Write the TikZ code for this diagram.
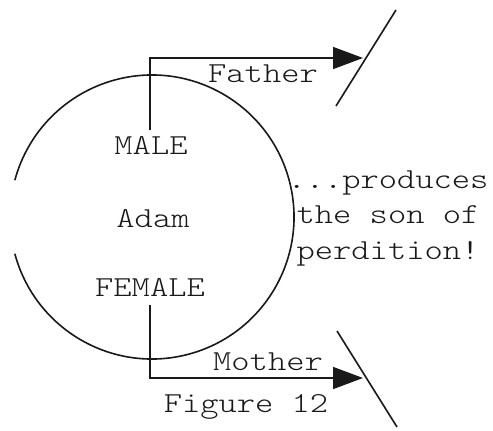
\documentclass[tikz,border=0pt]{standalone}
\usepackage{fontspec}
\usepackage{graphicx}
\newfontfamily\courlike{Latin Modern Mono Light}
\usetikzlibrary{arrows.meta}
\newcommand{\wide}[1]{\scalebox{1.2}[1]{#1}}
\tikzset{
  line/.style={line width=1.6pt, color=black!90},
  arr/.style={line, -{Triangle[length=30pt,width=22pt]}},
  lbl/.style={font=\fontsize{29pt}{35pt}\selectfont\courlike, inner sep=0pt, anchor=base, text=black!90},
}
\begin{document}
\begin{tikzpicture}[x=1pt,y=-1pt]
\useasboundingbox (0,0) rectangle (493,431);
\coordinate (c) at (152,217);
\draw[line] ([shift={(165:142)}]c) arc[start angle=165, end angle=-165, radius=142];
\node[lbl] (male) at (151,154) {\wide{MALE}};
\node[lbl] (adam) at (153,227) {\wide{Adam}};
\node[lbl] (female) at (150,296) {\wide{FEMALE}};
\node[lbl] (father) at (263,82) {\wide{Father}};
\node[lbl] (mother) at (268,370) {\wide{Mother}};
\node[lbl] (fig) at (246,412) {\wide{Figure 12}};
\node[lbl] (son1) at (388,188) {\wide{...produces}};
\node[lbl] (son2) at (388,223) {\wide{the son of}};
\node[lbl] (son3) at (388,259) {\wide{perdition!}};
\coordinate (fs) at (150,130);
\coordinate (fc) at (150,58);
\coordinate (ft) at (363,58);
\coordinate (ms) at (150,305);
\coordinate (mc) at (150,378);
\coordinate (mt) at (363,378);
\coordinate (s1a) at (396,10);
\coordinate (s1b) at (336,106);
\coordinate (s2a) at (337,331);
\coordinate (s2b) at (397,427);
\draw[arr] (fs) -- (fc) -- (ft);
\draw[arr] (ms) -- (mc) -- (mt);
\draw[line] (s1a) -- (s1b);
\draw[line] (s2a) -- (s2b);
\end{tikzpicture}
\end{document}
